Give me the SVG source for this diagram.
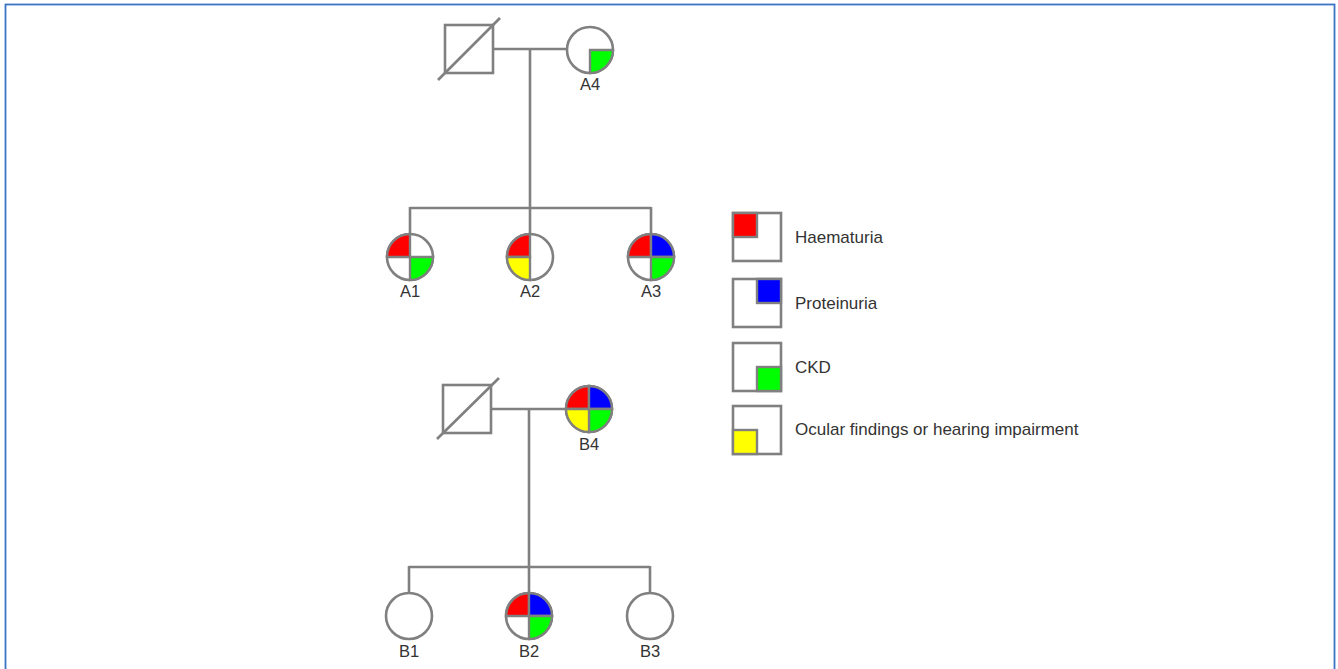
<svg xmlns="http://www.w3.org/2000/svg" xmlns:xlink="http://www.w3.org/1999/xlink" width="1338" height="669" viewBox="0 0 1338 669">
<style>
.ln{stroke:#808080;stroke-width:2.6;fill:none}
.ind{fill:#fff;stroke:#808080;stroke-width:2.6}
.q{stroke:#808080;stroke-width:2.4}
.r{fill:#ff0000}.b{fill:#0000ff}.g{fill:#00ff00}.y{fill:#ffff00}
.lbl{font-family:"Liberation Sans",Arial,sans-serif;font-size:17px;fill:#333}
.lab{text-anchor:middle;font-size:16.5px}
</style>
<defs>
<path id="qTL" d="M0,0 H-23 A23,23 0 0 1 0,-23 Z"/>
<path id="qTR" d="M0,0 V-23 A23,23 0 0 1 23,0 Z"/>
<path id="qBR" d="M0,0 H23 A23,23 0 0 1 0,23 Z"/>
<path id="qBL" d="M0,0 V23 A23,23 0 0 1 -23,0 Z"/>
</defs>
<rect x="0" y="0" width="1338" height="669" fill="#fff"/>
<rect x="5.5" y="4.5" width="1329" height="680" fill="none" stroke="#3b74c2" stroke-width="1.8"/>
<g id="connectors">
<line class="ln" x1="493" y1="49" x2="567" y2="49"/>
<line class="ln" x1="530" y1="49" x2="530" y2="208"/>
<line class="ln" x1="410" y1="208" x2="651" y2="208"/>
<line class="ln" x1="410" y1="207" x2="410" y2="234"/>
<line class="ln" x1="651" y1="207" x2="651" y2="234"/>
<line class="ln" x1="530" y1="208" x2="530" y2="234"/>
<line class="ln" x1="491" y1="409" x2="566" y2="409"/>
<line class="ln" x1="529" y1="409" x2="529" y2="567"/>
<line class="ln" x1="409" y1="567" x2="650" y2="567"/>
<line class="ln" x1="409" y1="566" x2="409" y2="593"/>
<line class="ln" x1="650" y1="566" x2="650" y2="593"/>
<line class="ln" x1="529" y1="567" x2="529" y2="593"/>
</g>
<g id="A-father">
<rect class="ind" x="445" y="25" width="48" height="48"/>
<line class="ln" x1="438" y1="80" x2="500" y2="18"/>
</g>
<g id="A4" transform="translate(590,50)">
<circle class="ind" r="23"/>
<use href="#qBR" class="q g"/>
<text class="lbl lab" x="0" y="40">A4</text>
</g>
<g id="A1" transform="translate(410,257)">
<circle class="ind" r="23"/>
<use href="#qTL" class="q r"/>
<use href="#qBR" class="q g"/>
<text class="lbl lab" x="0" y="40">A1</text>
</g>
<g id="A2" transform="translate(530,257)">
<circle class="ind" r="23"/>
<use href="#qTL" class="q r"/>
<use href="#qBL" class="q y"/>
<text class="lbl lab" x="0" y="40">A2</text>
</g>
<g id="A3" transform="translate(651,257)">
<circle class="ind" r="23"/>
<use href="#qTL" class="q r"/>
<use href="#qTR" class="q b"/>
<use href="#qBR" class="q g"/>
<text class="lbl lab" x="0" y="40">A3</text>
</g>
<g id="B-father">
<rect class="ind" x="443" y="385" width="48" height="48"/>
<line class="ln" x1="437" y1="439" x2="499" y2="378"/>
</g>
<g id="B4" transform="translate(589,409)">
<circle class="ind" r="23"/>
<use href="#qTL" class="q r"/>
<use href="#qTR" class="q b"/>
<use href="#qBR" class="q g"/>
<use href="#qBL" class="q y"/>
<text class="lbl lab" x="0" y="41">B4</text>
</g>
<g id="B1" transform="translate(409,616)">
<circle class="ind" r="23"/>
<text class="lbl lab" x="0" y="41">B1</text>
</g>
<g id="B2" transform="translate(529,616)">
<circle class="ind" r="23"/>
<use href="#qTL" class="q r"/>
<use href="#qTR" class="q b"/>
<use href="#qBR" class="q g"/>
<text class="lbl lab" x="0" y="41">B2</text>
</g>
<g id="B3" transform="translate(650,616)">
<circle class="ind" r="23"/>
<text class="lbl lab" x="0" y="41">B3</text>
</g>
<g id="legend-haematuria">
<rect class="ind" x="733" y="213" width="48" height="48"/>
<rect class="q r" x="733" y="213" width="24" height="24"/>
<text class="lbl" x="795" y="243">Haematuria</text>
</g>
<g id="legend-proteinuria">
<rect class="ind" x="733" y="279" width="48" height="48"/>
<rect class="q b" x="757" y="279" width="24" height="24"/>
<text class="lbl" x="795" y="309">Proteinuria</text>
</g>
<g id="legend-ckd">
<rect class="ind" x="733" y="343" width="48" height="48"/>
<rect class="q g" x="757" y="367" width="24" height="24"/>
<text class="lbl" x="795" y="373">CKD</text>
</g>
<g id="legend-ocular">
<rect class="ind" x="733" y="406" width="48" height="48"/>
<rect class="q y" x="733" y="430" width="24" height="24"/>
<text class="lbl" x="795" y="435">Ocular findings or hearing impairment</text>
</g>
</svg>
